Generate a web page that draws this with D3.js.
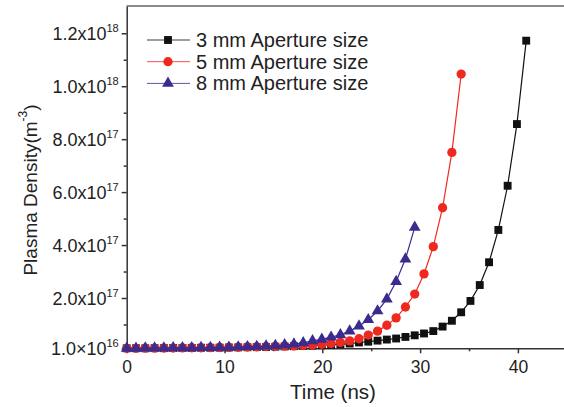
<!DOCTYPE html>
<html>
<head>
<meta charset="utf-8">
<script src="https://cdn.jsdelivr.net/npm/d3@7"></script>
<style>
	body { margin: 0; background: #fff; }
	svg { display: block; font-family: "Liberation Sans", Arial, sans-serif; }
</style>
</head>
<body>
<div id="chart"></div>
<script>
// time axis (ns), one shared list for the three series
var times = [0, 0.95, 1.9, 2.85, 3.8, 4.75, 5.7, 6.65, 7.6, 8.55, 9.5, 10.45, 11.4, 12.35, 13.3, 14.25,
	15.2, 16.15, 17.1, 18.05, 19, 19.95, 20.9, 21.85, 22.8, 23.75, 24.7, 25.65, 26.6, 27.55, 28.5, 29.45,
	30.4, 31.35, 32.3, 33.25, 34.2, 35.15, 36.1, 37.05, 38, 38.95, 39.9, 40.85];

// plasma density, in units of 1e16 m^-3
var density3mm = [1.0, 1.0, 1.0, 1.05, 1.05, 1.1, 1.1, 1.15, 1.2, 1.2, 1.25, 1.3, 1.35, 1.4, 1.45, 1.5,
	1.6, 1.7, 1.8, 1.9, 2.0, 2.15, 2.3, 2.5, 2.8, 3.2, 3.5, 3.9, 4.3, 4.7, 5.3, 5.9, 6.6, 7.5, 9.2, 11.4,
	14.6, 18.9, 24.9, 33.5, 45.7, 62.4, 85.7, 117.2];
var density5mm = [1.0, 1.0, 1.05, 1.05, 1.1, 1.1, 1.15, 1.2, 1.2, 1.25, 1.3, 1.35, 1.4, 1.5, 1.55, 1.65,
	1.75, 1.85, 1.9, 2.05, 2.25, 2.5, 2.8, 3.2, 3.8, 4.6, 6.0, 7.5, 9.7, 12.5, 16.6, 21.5, 29.1, 39.4,
	54.1, 75.0, 104.6];
var density8mm = [1.0, 1.0, 1.05, 1.05, 1.1, 1.15, 1.15, 1.2, 1.25, 1.3, 1.35, 1.4, 1.5, 1.6, 1.7, 1.85,
	2.0, 2.3, 2.6, 3.1, 3.8, 4.4, 5.2, 6.1, 7.5, 9.4, 11.8, 15.1, 19.6, 26.2, 34.7, 46.7];

var seriesNames = ["3 mm Aperture size", "5 mm Aperture size", "8 mm Aperture size"];
var xTicks = [0, 10, 20, 30, 40];
var xMinor = [5, 15, 25, 35, 45];
var yTicks = [1, 20, 40, 60, 80, 100, 120];
var yMinor = [10, 30, 50, 70, 90, 110];

(function(){
	var w = 564, h = 407;
	var x0 = 126.7, yBase = 348.3, yTop = 6;
	var colors = ["#111111", "#ee2a20", "#3a2b8e"];
	var shapes = [d3.symbolSquare, d3.symbolCircle, d3.symbolTriangle];
	var sizes = [62, 68, 60];

	var svg = d3.select("#chart")
		.append("svg")
		.attr("width", w)
		.attr("height", h);

	var x = d3.scaleLinear().domain([0, 45]).range([x0, x0 + 45 * 9.78]);
	var y = d3.scaleLinear().domain([1, 130.3]).range([yBase, yTop]);

	// top frame line
	svg.append("line")
		.attr("x1", x0).attr("x2", w)
		.attr("y1", yTop).attr("y2", yTop)
		.attr("stroke", "#666").attr("stroke-width", 1.5);

	// x axis
	var gx = svg.append("g")
		.attr("transform", "translate(0," + yBase + ")")
		.call(d3.axisBottom(x).tickValues(xTicks).tickSize(5).tickPadding(7).tickSizeOuter(0));
	svg.append("g")
		.attr("transform", "translate(0," + yBase + ")")
		.call(d3.axisBottom(x).tickValues(xMinor).tickSize(3).tickFormat("").tickSizeOuter(0))
		.select(".domain").remove();
	gx.selectAll("text")
		.attr("font-size", 17.5)
		.attr("font-family", "Liberation Sans, Arial, sans-serif")
		.attr("fill", "#222");

	// y axis
	var gy = svg.append("g")
		.attr("transform", "translate(" + x0 + ",0)")
		.call(d3.axisLeft(y).tickValues(yTicks).tickSize(5).tickFormat("").tickSizeOuter(0));
	svg.append("g")
		.attr("transform", "translate(" + x0 + ",0)")
		.call(d3.axisLeft(y).tickValues(yMinor).tickSize(3).tickFormat("").tickSizeOuter(0))
		.select(".domain").remove();

	gy.selectAll(".tick").each(function(d){
		var v = d * 1e16;
		var ex = Math.floor(Math.log10(v) + 1e-9);
		var mant = (v / Math.pow(10, ex)).toFixed(1);
		var t = d3.select(this).append("text")
			.attr("x", -8)
			.attr("dy", "0.35em")
			.attr("text-anchor", "end")
			.attr("fill", "#222")
			.attr("font-size", 18);
		t.append("tspan").text(mant + (d == 1 ? "×" : "x") + "10");
		t.append("tspan").attr("font-size", 11).attr("dy", "-0.75em").text(ex);
	});

	svg.selectAll(".domain, .tick line")
		.attr("stroke", "#333")
		.attr("stroke-width", 1.5);

	// axis titles
	svg.append("text")
		.attr("x", 333).attr("y", 399)
		.attr("text-anchor", "middle")
		.attr("font-size", 20.5)
		.attr("fill", "#222")
		.text("Time (ns)");

	var yt = svg.append("text")
		.attr("transform", "translate(37,190) rotate(-90)")
		.attr("text-anchor", "middle")
		.attr("font-size", 19)
		.attr("fill", "#222");
	yt.append("tspan").text("Plasma Density(m");
	yt.append("tspan").attr("font-size", 12).attr("dy", "-0.8em").text("-3");
	yt.append("tspan").attr("dy", "0.5em").text(")");

	// series
	var series = [density3mm, density5mm, density8mm];
	var line = d3.line()
		.x(function(d){ return x(d[0]); })
		.y(function(d){ return y(d[1]); });

	series.forEach(function(vals, s){
		var pts = vals.map(function(v, i){ return [times[i], v]; });
		var g = svg.append("g");
		g.append("path")
			.datum(pts)
			.attr("d", line)
			.attr("fill", "none")
			.attr("stroke", colors[s])
			.attr("stroke-width", 1.2);
		g.selectAll("path.pt")
			.data(pts)
			.enter()
			.append("path")
			.attr("class", "pt")
			.attr("transform", function(d){
				return "translate(" + x(d[0]) + "," + y(d[1]) + ")";
			})
			.attr("d", d3.symbol().type(shapes[s]).size(sizes[s]))
			.attr("fill", colors[s]);
	});

	// legend
	var lg = svg.selectAll("g.legend")
		.data(seriesNames)
		.enter()
		.append("g")
		.attr("class", "legend")
		.attr("transform", function(d, i){ return "translate(0," + (40 + i * 21.7) + ")"; });
	lg.append("line")
		.attr("x1", 147).attr("x2", 190)
		.attr("stroke", function(d, i){ return colors[i]; })
		.attr("stroke-width", 1)
		.attr("opacity", 0.8);
	lg.append("path")
		.attr("transform", "translate(168,0)")
		.attr("d", function(d, i){ return d3.symbol().type(shapes[i]).size(sizes[i])(); })
		.attr("fill", function(d, i){ return colors[i]; });
	lg.append("text")
		.attr("x", 196)
		.attr("dy", "0.35em")
		.attr("font-size", 20)
		.attr("fill", "#222")
		.text(function(d){ return d; });
})();
</script>
</body>
</html>
